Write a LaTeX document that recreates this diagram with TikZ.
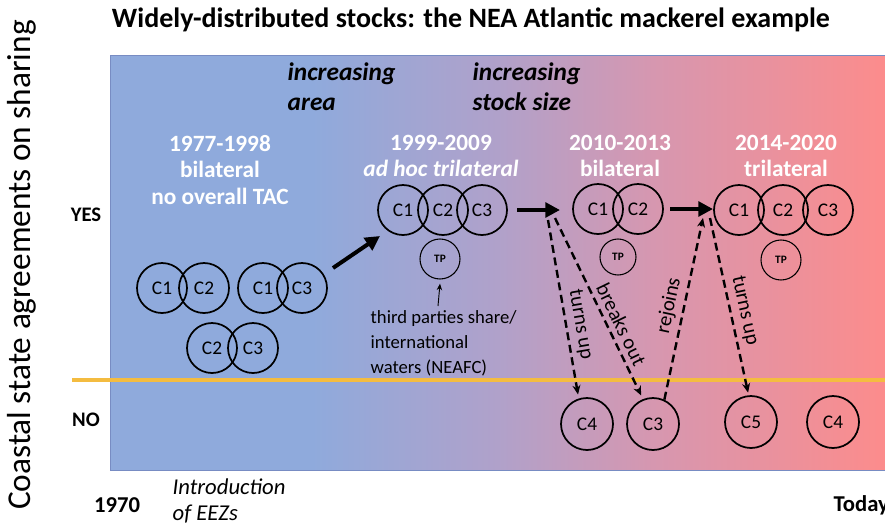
\documentclass[tikz,border=0pt]{standalone}
\usepackage{fontspec}
\setmainfont{Carlito}
\usetikzlibrary{arrows.meta}
\definecolor{cA}{RGB}{143,170,220}
\definecolor{cB}{RGB}{176,161,202}
\definecolor{cC}{RGB}{214,151,176}
\definecolor{cD}{RGB}{252,140,140}
\definecolor{orangeline}{RGB}{244,188,64}
\definecolor{rectedge}{RGB}{120,140,195}
\pgfdeclarehorizontalshading{bgshade}{100bp}{color(0bp)=(cA); color(25bp)=(cA); color(38bp)=(cA); color(50bp)=(cB); color(60bp)=(cC); color(75bp)=(cD); color(100bp)=(cD)}
\begin{document}
\begin{tikzpicture}[x=0.75pt,y=-0.75pt,
  cc/.style={circle,draw,line width=1.3pt,minimum size=37.5pt,inner sep=0pt,font=\fontsize{14.5}{16}\selectfont},
  tp/.style={circle,draw,line width=0.8pt,minimum size=30pt,inner sep=0pt,font=\bfseries\fontsize{8.5}{9}\selectfont},
  period/.style={text=white,font=\bfseries\fontsize{17.5}{20}\selectfont,align=center},
  incr/.style={font=\bfseries\itshape\fontsize{19}{22.5}\selectfont,align=left,anchor=west},
  axlab/.style={font=\bfseries\fontsize{15.5}{18}\selectfont},
  bigarrow/.style={line width=3pt,-{Triangle[length=11pt,width=11pt]}},
  dasharrow/.style={line width=1.8pt,dash pattern=on 6pt off 3.5pt,-{Stealth[length=7pt,width=6pt]}},
  dlab/.style={font=\fontsize{15.5}{17}\selectfont,sloped,above,inner sep=3.5pt}
]
\useasboundingbox (0,0) rectangle (885,526);
% background
\fill[shading=bgshade] (110,55) rectangle (885,470);
\draw[rectedge,line width=0.6pt] (885,55) -- (110,55) -- (110,470) -- (885,470);
\draw[orangeline,line width=3pt] (72,380) -- (885,380);

% title and axis
\node[font=\bfseries\fontsize{21}{25}\selectfont] (title) at (471,20) {Widely-distributed stocks: the NEA Atlantic mackerel example};
\node[rotate=90,font=\fontsize{25}{30}\selectfont] (ylab) at (22,265) {Coastal state agreements on sharing};
\node[axlab] (yes) at (86,215) {YES};
\node[axlab] (no) at (86,420) {NO};
\node[axlab,font=\bfseries\fontsize{17}{20}\selectfont] (y1970) at (117,505) {1970};
\node[font=\itshape\fontsize{17}{19.5}\selectfont,align=left,anchor=west] (eez) at (168,501) {Introduction\\of EEZs};
\node[axlab,font=\bfseries\fontsize{17}{20}\selectfont,anchor=west] (today) at (829,505) {Today};

% increasing
\node[incr] (incA) at (283,87) {increasing\\area};
\node[incr] (incB) at (468,87) {increasing\\stock size};

% period labels
\node[period] (p1) at (220,170) {1977-1998\\bilateral\\no overall TAC};
\node[period] (p2) at (441,156) {1999-2009\\\textit{ad hoc trilateral}};
\node[period] (p3) at (620,156) {2010-2013\\bilateral};
\node[period] (p4) at (786,156) {2014-2020\\trilateral};

% 1977-1998 circles
\node[cc] (a1) at (162,288) {C1};
\node[cc] (a2) at (204,288) {C2};
\node[cc] (b1) at (263,288) {C1};
\node[cc] (b3) at (302,288) {C3};
\node[cc] (e2) at (212,348) {C2};
\node[cc] (e3) at (253,348) {C3};

% 1999-2009
\node[cc] (f1) at (403,210) {C1};
\node[cc] (f2) at (443,210) {C2};
\node[cc] (f3) at (482,210) {C3};
\node[tp] (tp1) at (440,259) {TP};
\node[font=\fontsize{14}{18.75}\selectfont,align=left,anchor=west] (tptext) at (366,343) {third parties share/\\international\\waters (NEAFC)};
\coordinate (tpa) at (438,306);
\draw[line width=0.7pt,-{Stealth[length=5pt,width=4pt]}] (tpa) -- ([yshift=-3pt]tp1.south);

% 2010-2013
\node[cc] (g1) at (598,209) {C1};
\node[cc] (g2) at (638,209) {C2};
\node[tp,minimum size=27pt] (tp2) at (618,257) {TP};

% 2014-2020
\node[cc] (h1) at (739,210) {C1};
\node[cc] (h2) at (783,210) {C2};
\node[cc] (h3) at (828,210) {C3};
\node[tp] (tp3) at (781,260) {TP};

% NO row
\node[cc,minimum size=39pt] (n4) at (587,424) {C4};
\node[cc,minimum size=39pt] (n3) at (653,424) {C3};
\node[cc,minimum size=39pt] (n5) at (751,422) {C5};
\node[cc,minimum size=39pt] (n4b) at (833,422) {C4};

% thick arrows
\coordinate (s1) at (333,268);
\coordinate (t1) at (380,236);
\draw[bigarrow] (s1) -- (t1);
\coordinate (s2) at (517,210);
\coordinate (t2) at (560,210);
\draw[bigarrow] (s2) -- (t2);
\coordinate (s3) at (670,209);
\coordinate (t3) at (713,209);
\draw[bigarrow] (s3) -- (t3);

% dashed arrows
\coordinate (d1) at (548,220);
\coordinate (d2) at (555,218);
\coordinate (d3) at (703,218);
\coordinate (d4) at (710,218);
\draw[dasharrow,shorten >=3pt] (d1) -- (n4.108) node[dlab,pos=0.6] {turns up};
\draw[dasharrow,shorten >=3pt] (d2) -- (n3.112) node[dlab,pos=0.62] {breaks out};
\draw[dasharrow] (n3.65) -- (d3) node[dlab,pos=0.5] {rejoins};
\draw[dasharrow,shorten >=2pt] (d4) -- (n5.95) node[dlab,pos=0.54] {turns up};
\end{tikzpicture}
\end{document}
